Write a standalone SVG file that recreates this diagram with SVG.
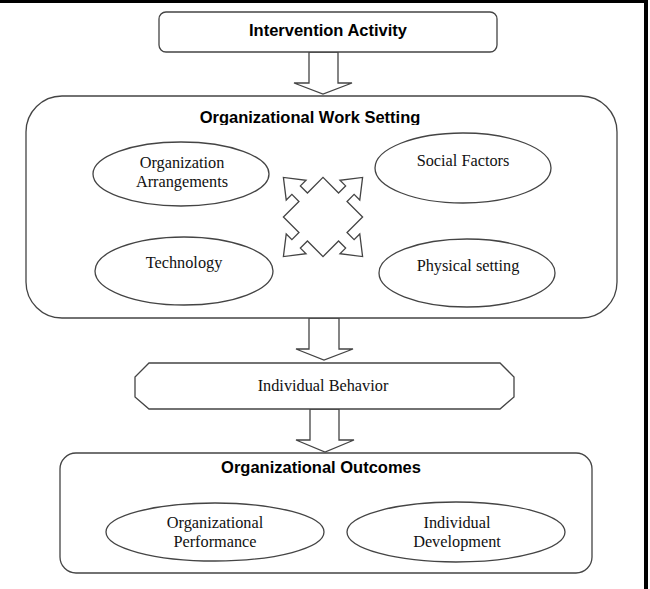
<svg xmlns="http://www.w3.org/2000/svg" width="650" height="589" viewBox="0 0 650 589">
<style>
.ln{fill:#fff;stroke:#444;stroke-width:1.3}
.bt{font-family:"Liberation Sans",Arial,sans-serif;font-weight:bold;font-size:16.5px;fill:#000;text-anchor:middle}
.tt{font-family:"Liberation Serif","Times New Roman",serif;font-size:16.3px;fill:#111;text-anchor:middle}
</style>
<defs>
<clipPath id="clipTitle"><rect x="0" y="100" width="650" height="25"/></clipPath>
</defs>
<rect x="0" y="0" width="650" height="589" fill="#fff"/>
<rect x="0" y="0" width="648" height="3" fill="#000"/>
<rect x="644" y="0" width="4" height="589" fill="#000"/>

<g id="connectors">
<polygon class="ln" points="309,52 338,52 338,83 352,83 323,94 294,83 309,83"/>
<polygon class="ln" points="309,318 339,318 339,349 353,349 324,360 296,349 309,349"/>
<polygon class="ln" points="310,409 339,409 339,440 354,440 325,452 296,440 310,440"/>
</g>

<g id="intervention">
<rect class="ln" x="159" y="12" width="338" height="40" rx="7"/>
<text class="bt" x="328" y="36">Intervention Activity</text>
</g>

<g id="work-setting">
<rect class="ln" x="26" y="96" width="591" height="222" rx="36"/>
<text class="bt" x="310" y="123" clip-path="url(#clipTitle)">Organizational Work Setting</text>
</g>

<g id="org-arrangements">
<ellipse class="ln" cx="181" cy="174" rx="88" ry="32"/>
<text class="tt" x="182" y="168">Organization</text>
<text class="tt" x="182" y="187">Arrangements</text>
</g>
<g id="social-factors">
<ellipse class="ln" cx="463" cy="168" rx="88" ry="35"/>
<text class="tt" x="463" y="166">Social Factors</text>
</g>
<g id="technology">
<ellipse class="ln" cx="184" cy="271" rx="89" ry="34"/>
<text class="tt" x="184" y="268">Technology</text>
</g>
<g id="physical-setting">
<ellipse class="ln" cx="467" cy="273" rx="88" ry="34"/>
<text class="tt" x="468" y="271">Physical setting</text>
</g>

<g id="quad-arrow">
<polygon class="ln" transform="translate(323,217) rotate(45)" points="-6,-28 -6,-38 -14,-38 0,-56 14,-38 6,-38 6,-28 28,-28 28,-6 38,-6 38,-14 56,0 38,14 38,6 28,6 28,28 6,28 6,38 14,38 0,56 -14,38 -6,38 -6,28 -28,28 -28,6 -38,6 -38,14 -56,0 -38,-14 -38,-6 -28,-6 -28,-28"/>
</g>

<g id="individual-behavior">
<polygon class="ln" points="149,363 500,363 514,377 514,397 500,409 149,409 135,397 135,377"/>
<text class="tt" x="323" y="391">Individual Behavior</text>
</g>

<g id="outcomes">
<rect class="ln" x="60" y="453" width="532" height="120" rx="16"/>
<text class="bt" x="321" y="473">Organizational Outcomes</text>
</g>
<g id="org-performance">
<ellipse class="ln" cx="215" cy="532" rx="109" ry="29"/>
<text class="tt" x="215" y="528">Organizational</text>
<text class="tt" x="215" y="547">Performance</text>
</g>
<g id="individual-development">
<ellipse class="ln" cx="456" cy="532" rx="109" ry="30"/>
<text class="tt" x="457" y="528">Individual</text>
<text class="tt" x="457" y="547">Development</text>
</g>
</svg>
